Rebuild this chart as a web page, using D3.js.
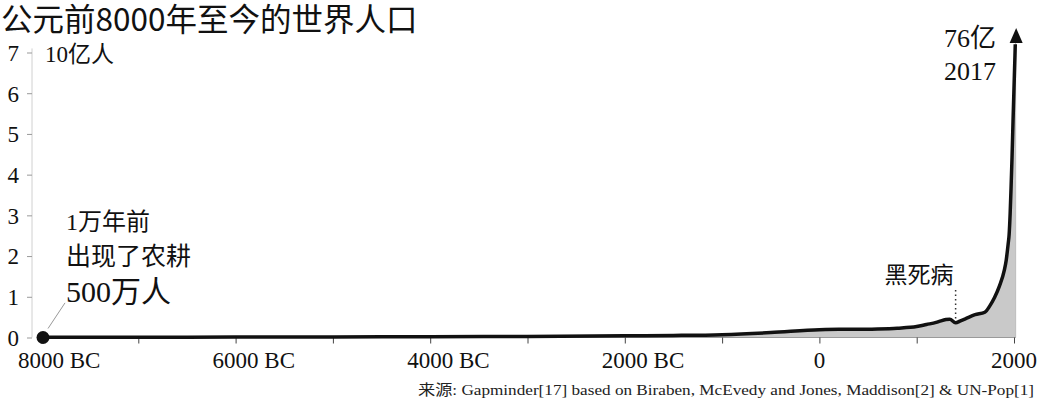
<!DOCTYPE html>
<html><head><meta charset="utf-8">
<script src="https://cdn.jsdelivr.net/npm/d3@7"></script>
<style>
body{margin:0;background:#fff;}
svg{display:block;}
</style></head>
<body><svg id="c" width="1038" height="400"></svg>
<script>
const title = "公元前8000年至今的世界人口";
const unitLabel = "10亿人";
const years = [-8000,-7000,-6000,-5000,-4000,-3000,-2000,-1500,-1000,-500,0,200,400,600,800,1000,1100,1200,1250,1300,1340,1400,1450,1500,1600,1700,1750,1800,1850,1900,1920,1940,1950,1960,1970,1980,1990,2000,2010,2017];
const population = [0.005,0.007,0.01,0.015,0.02,0.027,0.04,0.05,0.07,0.12,0.19,0.2,0.2,0.21,0.23,0.27,0.32,0.37,0.41,0.44,0.45,0.36,0.41,0.46,0.56,0.62,0.77,0.98,1.26,1.65,1.9,2.3,2.53,3.02,3.69,4.44,5.31,6.13,6.93,7.55];
const xTicks = [-8000,-7000,-6000,-5000,-4000,-3000,-2000,-1000,0,1000,2000];
const xLabelYears = [-8000,-6000,-4000,-2000,0,2000];
const yTicks = [0,1,2,3,4,5,6,7];
const startNote = ["1万年前","出现了农耕","500万人"];
const endNote = ["76亿","2017"];
const plagueLabel = "黑死病";
const plagueYear = 1400;
const source = "来源: Gapminder[17] based on Biraben, McEvedy and Jones, Maddison[2] & UN-Pop[1]";

const data = years.map((y,i)=>({year:y, pop:population[i]}));
const svg = d3.select("#c");
const serif = "'Liberation Serif','Noto Sans CJK SC',serif";
const sans = "'Noto Sans CJK SC','Liberation Sans',sans-serif";

const x = d3.scaleLinear().domain([-8000,2000]).range([41,1014]);
const y = d3.scaleLinear().domain([0,7]).range([337.5,52.5]);

// title
svg.append("text").attr("x",1).attr("y",31).attr("font-family",sans).attr("font-size",31.5)
  .attr("fill","#111").text(title);

// y axis
const ya = svg.append("g").attr("transform","translate(32,0)")
  .call(d3.axisLeft(y).tickValues(yTicks).tickSize(5).tickPadding(8).tickFormat(d3.format("d")));
ya.select(".domain").attr("stroke","#d0d0d0").attr("d",`M0,${y(7.1)}V${y(0)}`);
ya.selectAll(".tick line").attr("stroke","#999");
ya.selectAll(".tick text").attr("font-family",serif).attr("font-size",23).attr("fill","#111").attr("dy","0.34em");

svg.append("text").attr("x",45).attr("y",y(7)+9).attr("font-family",serif).attr("font-size",23)
  .attr("fill","#111").text(unitLabel);

// area + line
const area = d3.area().x(d=>x(d.year)).y0(y(0)).y1(d=>y(d.pop)).curve(d3.curveMonotoneX);
const line = d3.line().x(d=>x(d.year)).y(d=>y(d.pop)).curve(d3.curveMonotoneX);
svg.append("path").datum(data).attr("d",area).attr("fill","#c9c9c9");
svg.append("line").attr("x1",x(2017)).attr("x2",x(2017)).attr("y1",y(0)).attr("y2",y(population[population.length-1]))
  .attr("stroke","#bdbdbd").attr("stroke-width",1);

// x axis
const xa = svg.append("g").attr("transform",`translate(0,${y(0)})`)
  .call(d3.axisBottom(x).tickValues(xTicks).tickSize(6).tickFormat(""));
xa.select(".domain").attr("stroke","#9a9a9a").attr("d",`M${x(-8000)},0H${x(2017)}`);
xa.selectAll(".tick line").attr("stroke","#444");

// x labels: number centred on tick, " BC" suffix
const xl = svg.append("g");
xLabelYears.forEach(v=>{
  const num = String(Math.abs(v));
  const t = xl.append("text").attr("y",368).attr("font-family",serif).attr("font-size",23).attr("fill","#111");
  if(v<0){
    t.attr("x",x(v)).attr("text-anchor","start").text(num+" BC");
    const w = t.node().getSubStringLength(0,num.length);
    t.attr("x",x(v)-w/2);
  } else {
    t.attr("x",x(v)).attr("text-anchor","middle").text(num);
  }
});

// curve line
svg.append("clipPath").attr("id","clipTop").append("rect").attr("x",0).attr("y",y(7.2)).attr("width",1038).attr("height",400);
svg.append("path").datum(data).attr("d",line).attr("fill","none")
  .attr("stroke","#111").attr("stroke-width",3.5).attr("stroke-linejoin","round")
  .attr("clip-path","url(#clipTop)");
// arrowhead
const tipX = x(2017)+0.5, tipY = y(population[population.length-1])-2;
svg.append("path").attr("d",`M${tipX},${tipY}L${tipX-6.5},${tipY+15}L${tipX+6.5},${tipY+15}Z`).attr("fill","#111");

// start dot
svg.append("circle").attr("cx",x(-8000)+2).attr("cy",y(0)).attr("r",6.5).attr("fill","#111");
svg.append("line").attr("x1",x(-8000)+7).attr("y1",y(0.22)).attr("x2",x(-8000)+24).attr("y2",y(0.85))
  .attr("stroke","#999").attr("stroke-width",1);
const sn = svg.append("g").attr("font-family",serif).attr("fill","#111");
sn.append("text").attr("x",66).attr("y",230).attr("font-size",24).text(startNote[0]);
sn.append("text").attr("x",66).attr("y",265).attr("font-size",25).text(startNote[1]);
sn.append("text").attr("x",66).attr("y",302).attr("font-size",30).text(startNote[2]);

// end note
const en = svg.append("g").attr("font-family",serif).attr("fill","#111").attr("font-size",26);
en.append("text").attr("x",944).attr("y",47).text(endNote[0]);
en.append("text").attr("x",944).attr("y",80).text(endNote[1]);

// black death
const pd = data.find(d=>d.year===plagueYear);
svg.append("line").attr("x1",x(plagueYear)).attr("x2",x(plagueYear)).attr("y1",290).attr("y2",y(pd.pop)-4)
  .attr("stroke","#333").attr("stroke-width",1.5).attr("stroke-dasharray","1.5,3");
svg.append("text").attr("x",x(plagueYear)-2).attr("y",283).attr("text-anchor","end").attr("font-family",serif)
  .attr("font-size",23).attr("fill","#111").text(plagueLabel);

// source
svg.append("text").attr("x",418).attr("y",395).attr("font-family",serif).attr("font-size",15)
  .attr("fill","#222").attr("textLength",616).attr("lengthAdjust","spacingAndGlyphs").text(source);
</script></body></html>
